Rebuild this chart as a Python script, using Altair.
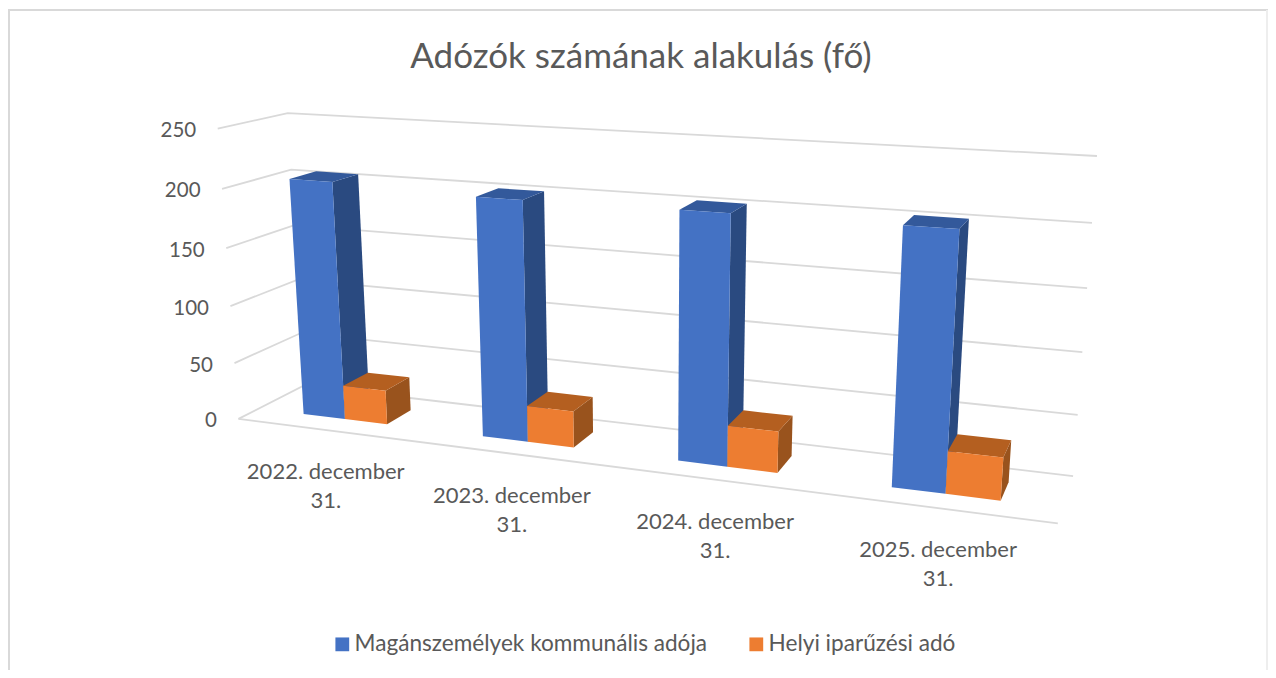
import numpy as np
import pandas as pd
import altair as alt

TITLE = "Adózók számának alakulás (fő)"
categories = ["2022. december\n31.", "2023. december\n31.", "2024. december\n31.", "2025. december\n31."]
series_a = "Magánszemélyek kommunális adója"
series_b = "Helyi iparűzési adó"
values_a = [206, 202, 203, 203]
values_b = [30, 31, 34, 34]
ticks = [0, 50, 100, 150, 200, 250]

FONT = "Lato"
TEXT = "#595959"
GRID = "#d9d9d9"
CW, CH = 1260, 662   # drawing size; the page adds an 8 px margin

# camera calibration of the 3-D box: (u along categories, value, d depth) -> screen pixel
calib = [
    (0, 0, 0, 238.5, 418.5), (0, 100, 0, 230.5, 306), (0, 200, 0, 222, 189), (0, 250, 0, 217.5, 129),
    (0, 0, 1, 304, 386), (0, 250, 1, 288, 113), (0, 200, 1, 291, 169.5),
    (1, 0, 1, 1073, 476), (1, 150, 1, 1087, 288), (1, 200, 1, 1092, 223), (1, 250, 1, 1097, 156),
    (1, 0, 0, 1058, 523.5),
]
A, b = [], []
for u, v, d, px, py in calib:
    A.append([u, v, d, 1, 0, 0, 0, 0, -u * px, -v * px, -d * px])
    b.append(px)
    A.append([0, 0, 0, 0, u, v, d, 1, -u * py, -v * py, -d * py])
    b.append(py)
P = np.linalg.lstsq(np.array(A, float), np.array(b, float), rcond=None)[0]


def project(u, v, d):
    den = P[8] * u + P[9] * v + P[10] * d + 1
    return (float((P[0] * u + P[1] * v + P[2] * d + P[3]) / den),
            float((P[4] * u + P[5] * v + P[6] * d + P[7]) / den))


# Bars
n = len(categories)
slot = 1 / n
GAP = 2.2
bw = slot / (2 + GAP)
D0, D1 = 0.3, 0.7
faces = {
    series_a: (series_a, "a-side", "a-top"),
    series_b: (series_b, "b-side", "b-top"),
}
rows = []
pid = 0


def add(face, pts):
    global pid
    pid += 1
    for k, (u, v, d) in enumerate(pts + pts[:1]):
        x, y = project(u, v, d)
        rows.append(dict(poly=pid, ord=k, x=x, y=y, face=face))


for i in range(n):
    for s, (name, vals) in enumerate([(series_a, values_a), (series_b, values_b)]):
        u0 = slot * i + bw * (GAP / 2 + s)
        u1 = u0 + bw
        v = vals[i]
        front, side, top = faces[name]
        add(side, [(u1, 0, D0), (u1, 0, D1), (u1, v, D1), (u1, v, D0)])
        add(top, [(u0, v, D0), (u1, v, D0), (u1, v, D1), (u0, v, D1)])
        add(front, [(u0, 0, D0), (u1, 0, D0), (u1, v, D0), (u0, v, D0)])
bars = pd.DataFrame(rows)

# Grid
grid_rows = []
for t in ticks:
    for k, (u, d) in enumerate([(0, 0), (0, 1), (1, 1)]):
        x, y = project(u, t, d)
        grid_rows.append(dict(line=f"t{t}", ord=k, x=x, y=y))
for k, (u, d) in enumerate([(0, 0), (1, 0)]):
    x, y = project(u, 0, d)
    grid_rows.append(dict(line="floor", ord=k, x=x, y=y))
grid = pd.DataFrame(grid_rows)

# Axis labels
tick_df = pd.DataFrame([
    dict(x=project(0, t, 0)[0] - 21.5, y=project(0, t, 0)[1] + 2.5, label=str(t)) for t in ticks
])
cat_df = pd.DataFrame([
    dict(x=project(slot * (i + 0.5), 0, 0)[0],
         y=project(slot * (i + 0.5), 0, 0)[1] + 32, label=c)
    for i, c in enumerate(categories)
])

xs = alt.Scale(domain=[8, 8 + CW], range=[0, CW])
ys = alt.Scale(domain=[8 + CH, 8], range=[CH, 0])
X = alt.X("x:Q", scale=xs, axis=None)
Y = alt.Y("y:Q", scale=ys, axis=None)

frame_top = alt.Chart(pd.DataFrame({"k": [0]})).mark_rule(stroke=GRID, strokeWidth=2).encode(
    x=alt.value(0), x2=alt.value(CW), y=alt.value(2))
frame_left = alt.Chart(pd.DataFrame({"k": [0]})).mark_rule(stroke=GRID, strokeWidth=2).encode(
    x=alt.value(1), y=alt.value(2), y2=alt.value(CH))
frame_right = alt.Chart(pd.DataFrame({"k": [0]})).mark_rule(stroke="#eeeeee", strokeWidth=2).encode(
    x=alt.value(CW - 1), y=alt.value(2), y2=alt.value(CH))

grid_layer = alt.Chart(grid).mark_line(stroke=GRID, strokeWidth=1.8).encode(
    x=X, y=Y, detail="line:N", order="ord:Q")

domain = [series_a, series_b, "a-side", "a-top", "b-side", "b-top"]
colors = ["#4472C4", "#ED7D31", "#2A4A80", "#33599B", "#99531D", "#B45F20"]
bar_layer = alt.Chart(bars).mark_line(filled=True, strokeWidth=0).encode(
    x=X, y=Y, detail="poly:N", order="ord:Q",
    fill=alt.Fill("face:N", scale=alt.Scale(domain=domain, range=colors),
                  legend=alt.Legend(values=[series_a, series_b], title=None, orient="none",
                                    legendX=323, legendY=625, direction="horizontal",
                                    symbolType="square", symbolSize=190, symbolStrokeWidth=0,
                                    labelFont=FONT, labelFontSize=22.6, labelColor=TEXT,
                                    columnPadding=37, labelOffset=1, labelLimit=500)),
)

tick_layer = alt.Chart(tick_df).mark_text(font=FONT, fontSize=20.5, color=TEXT, align="right",
                                          baseline="middle").encode(x=X, y=Y, text="label:N")
cat_layer = alt.Chart(cat_df).mark_text(font=FONT, fontSize=22, color=TEXT, align="center",
                                        baseline="top", lineBreak="\n", lineHeight=29).encode(
    x=X, y=Y, text="label:N")

chart = alt.layer(frame_top, frame_left, frame_right, grid_layer, bar_layer, tick_layer, cat_layer).properties(
    width=CW, height=CH,
    padding=0,
    autosize=alt.AutoSizeParams(type="none"),
    title=alt.TitleParams(TITLE, font=FONT, fontSize=35, fontWeight="normal", color=TEXT,
                          anchor="middle", baseline="middle", offset=-84, dx=3),
).configure_view(stroke=None)

chart.save("out.html", embed_options={"renderer": "svg", "actions": False})
